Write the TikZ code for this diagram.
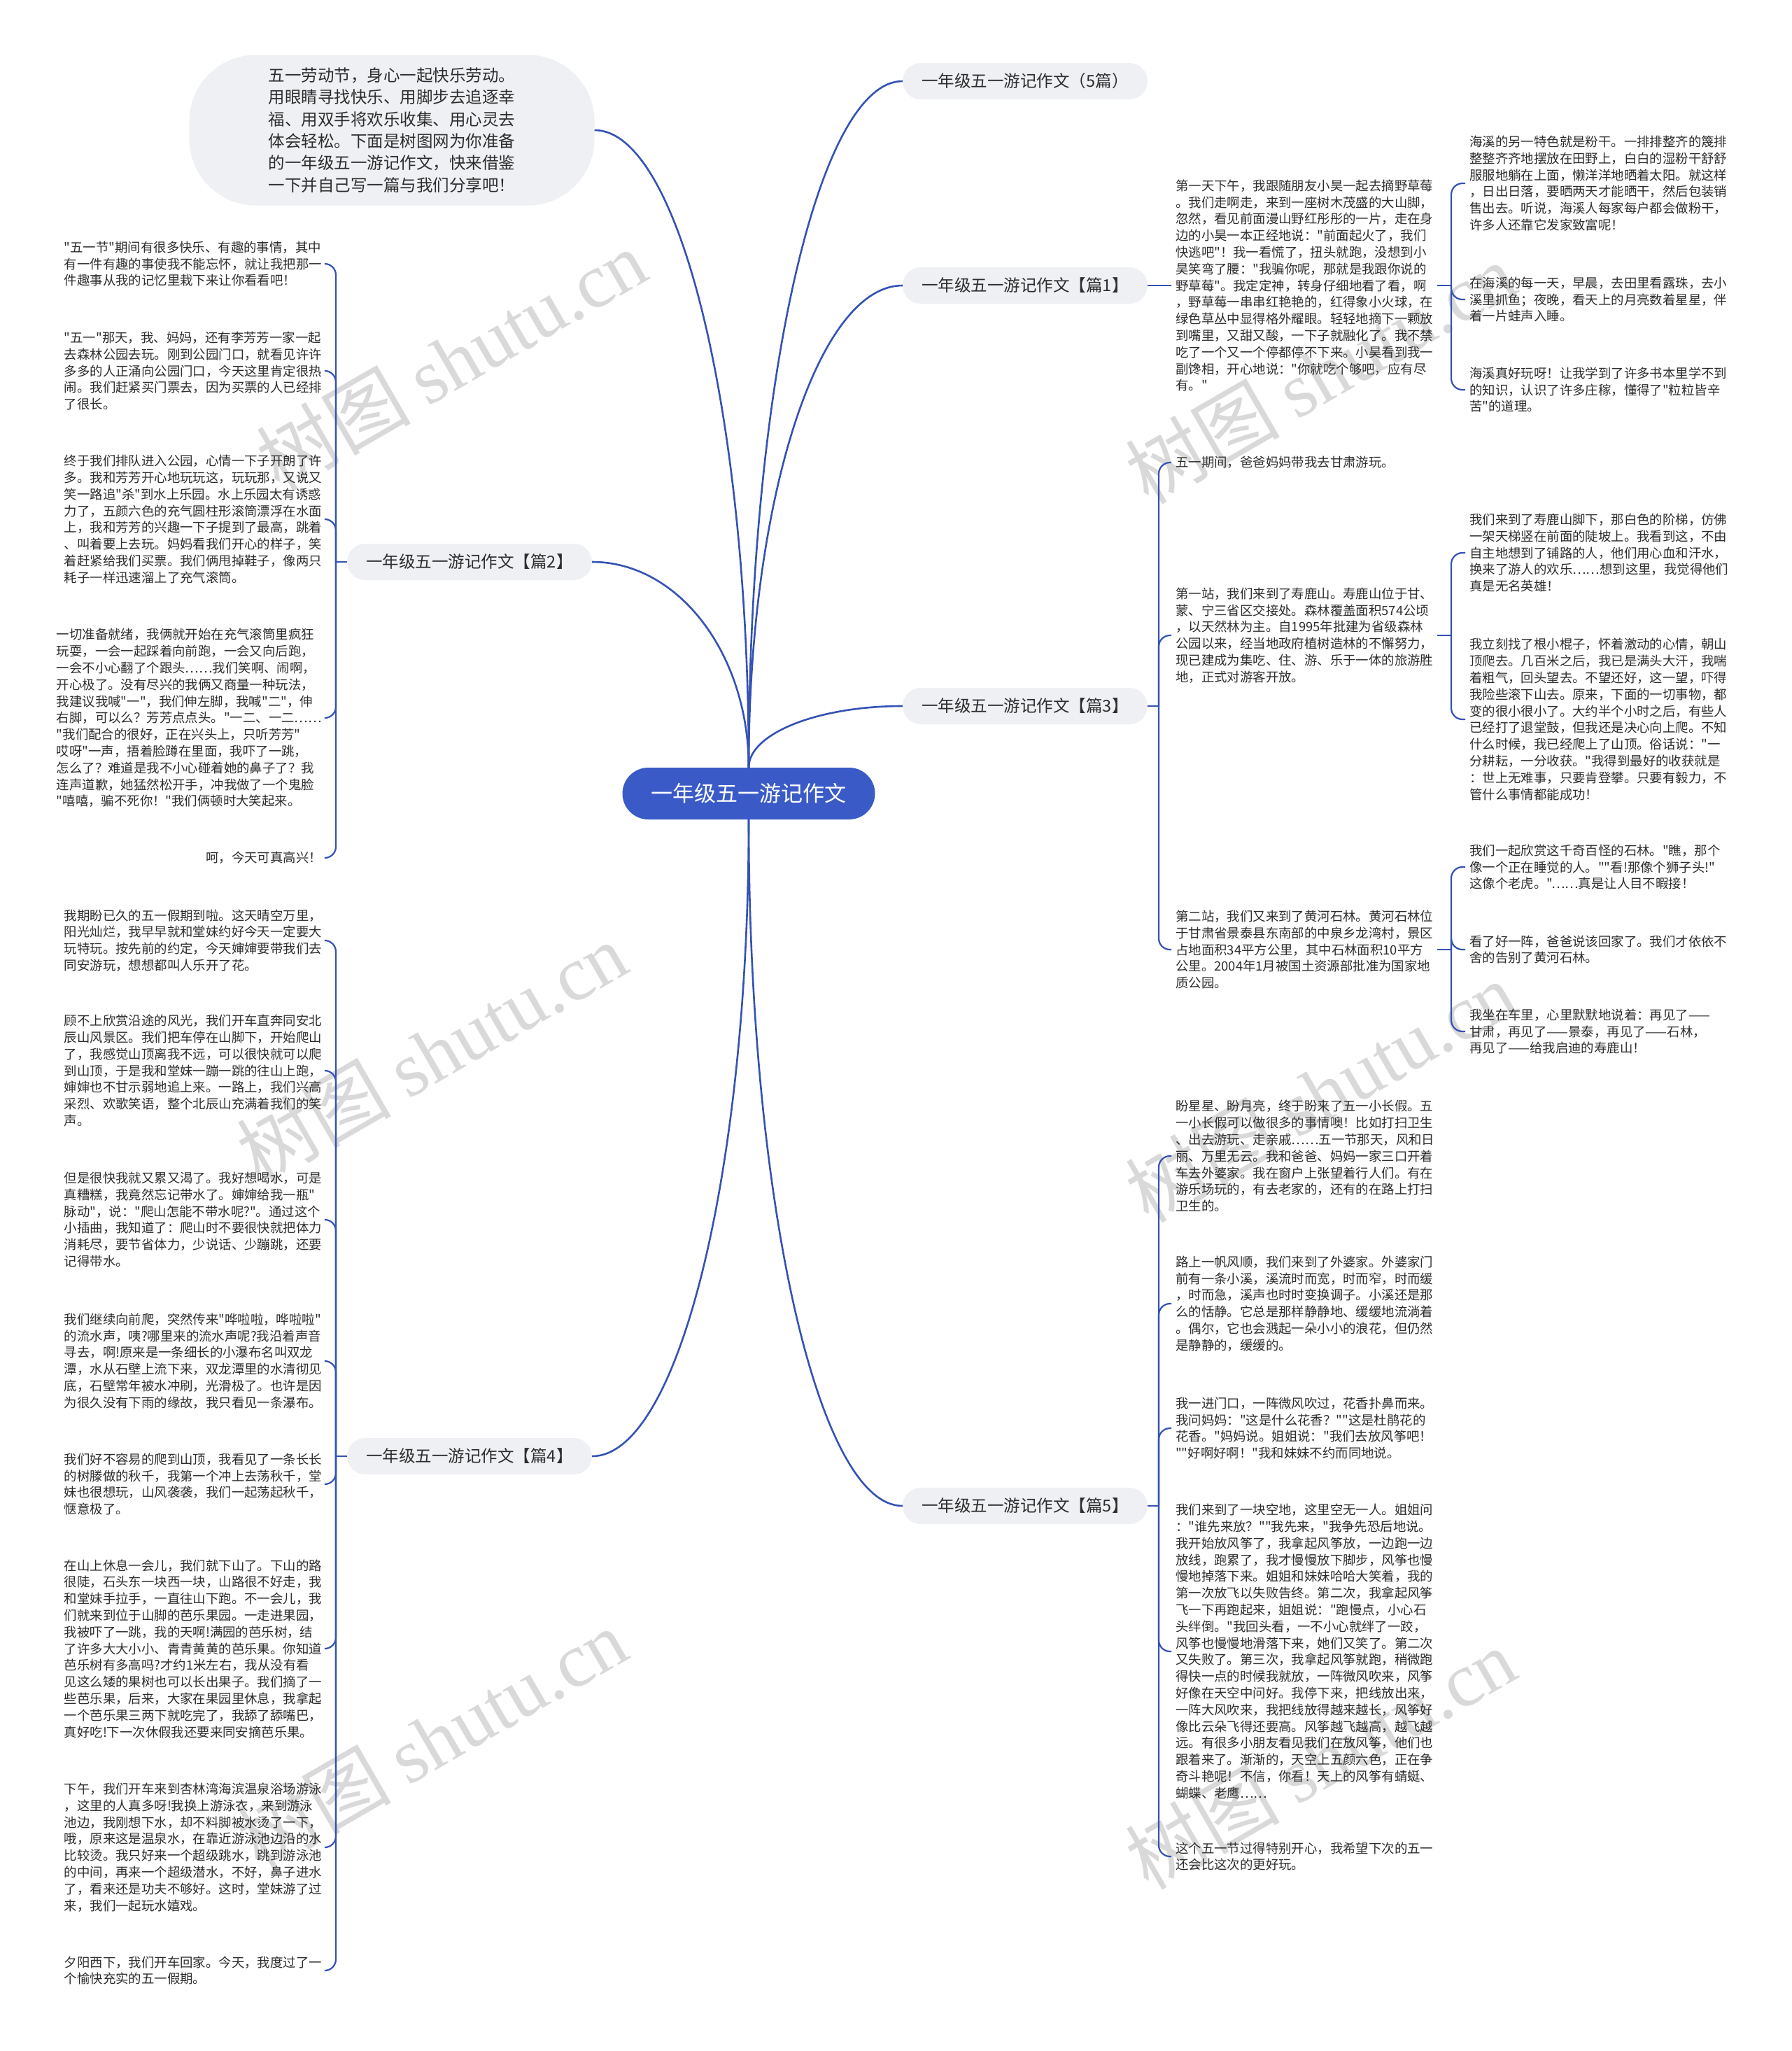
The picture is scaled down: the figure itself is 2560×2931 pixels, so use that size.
\documentclass[tikz,border=0pt]{standalone}
\usepackage{fontspec}
\newfontfamily\cjk{Noto Sans CJK SC}
\newfontfamily\wmlatin{Liberation Serif}
\usetikzlibrary{calc}
\definecolor{linkblue}{RGB}{52,82,180}
\definecolor{rootblue}{RGB}{58,91,199}
\definecolor{pillgray}{RGB}{238,240,243}
\definecolor{inkgray}{RGB}{45,45,45}

\begin{document}
\begin{tikzpicture}[x=1pt, y=-1pt,
    branchline/.style={draw=linkblue, line width=2.6pt},
    twig/.style={draw=linkblue, line width=2.2pt, rounded corners=16pt},
    curvy/.style={to path={.. controls
      ($(\tikztostart)!0.552!(\tikztostart |- \tikztotarget)$) and
      ($(\tikztotarget)!0.552!(\tikztostart |- \tikztotarget)$) .. (\tikztotarget)}},
    centerbox/.style={fill=rootblue, text=white, rounded corners=37pt,
      minimum width=361pt, minimum height=74pt, font=\cjk\fontsize{31}{36}\selectfont},
    topic/.style={fill=pillgray, text=inkgray, rounded corners=26pt,
      minimum width=350pt, minimum height=52pt, font=\cjk\fontsize{23.5}{28}\selectfont},
    leafnote/.style={text=inkgray, align=left, inner xsep=6pt, inner ysep=2pt,
      font=\cjk\fontsize{18.4}{23.8}\selectfont},
    wmark/.style={text=black!15, rotate=30, font=\cjk\fontsize{110}{120}\selectfont}]
  \useasboundingbox (0,0) rectangle (2560,2931);
  \fill[white] (0,0) rectangle (2560,2931);

  % --- watermarks, behind everything ---
  \node[wmark] (wm1) at (645,514) {树图 {\wmlatin shutu.cn}};
  \node[wmark] (wm2) at (617,1504) {树图 {\wmlatin shutu.cn}};
  \node[wmark] (wm3) at (617,2485) {树图 {\wmlatin shutu.cn}};
  \node[wmark] (wm4) at (1887,533) {树图 {\wmlatin shutu.cn}};
  \node[wmark] (wm5) at (1887,1560) {树图 {\wmlatin shutu.cn}};
  \node[wmark] (wm6) at (1887,2513) {树图 {\wmlatin shutu.cn}};

  % --- centre and main topics ---
  \node[centerbox] (root) at (1070,1134) {一年级五一游记作文};
  \node[fill=pillgray, text=inkgray, rounded corners=95pt, minimum width=579pt,
        minimum height=215pt, align=left, font=\cjk\fontsize{23.5}{31.4}\selectfont]
    (intro) at (560,186)
    {五一劳动节，身心一起快乐劳动。\\用眼睛寻找快乐、用脚步去追逐幸\\福、用双手将欢乐收集、用心灵去\\体会轻松。下面是树图网为你准备\\的一年级五一游记作文，快来借鉴\\一下并自己写一篇与我们分享吧！};
  \node[topic] (p0) at (1465,116) {一年级五一游记作文（5篇）};
  \node[topic] (p1) at (1465,408) {一年级五一游记作文【篇1】};
  \node[topic] (p2) at (671,803) {一年级五一游记作文【篇2】};
  \node[topic] (p3) at (1465,1009) {一年级五一游记作文【篇3】};
  \node[topic] (p4) at (671,2081) {一年级五一游记作文【篇4】};
  \node[topic] (p5) at (1465,2152) {一年级五一游记作文【篇5】};

  \draw[branchline] (root.north) to[curvy] (intro.east);
  \draw[branchline] (root.north) to[curvy] (p0.west);
  \draw[branchline] (root.north) to[curvy] (p1.west);
  \draw[branchline] (root.north) to[curvy] (p2.east);
  \draw[branchline] (root.north) to[curvy] (p3.west);
  \draw[branchline] (root.south) to[curvy] (p4.east);
  \draw[branchline] (root.south) to[curvy] (p5.west);

  % --- 篇1 ---
  \node[leafnote, anchor=west] (p1t) at (1674,408)
    {第一天下午，我跟随朋友小昊一起去摘野草莓\\。我们走啊走，来到一座树木茂盛的大山脚，\\忽然，看见前面漫山野红彤彤的一片，走在身\\边的小昊一本正经地说："前面起火了，我们\\快逃吧"！我一看慌了，扭头就跑，没想到小\\昊笑弯了腰："我骗你呢，那就是我跟你说的\\野草莓"。我定定神，转身仔细地看了看，啊\\，野草莓一串串红艳艳的，红得象小火球，在\\绿色草丛中显得格外耀眼。轻轻地摘下一颗放\\到嘴里，又甜又酸，一下子就融化了。我不禁\\吃了一个又一个停都停不下来。小昊看到我一\\副馋相，开心地说："你就吃个够吧，应有尽\\有。"};
  \node[leafnote, anchor=west] (p1a) at (2094,262)
    {海溪的另一特色就是粉干。一排排整齐的篾排\\整整齐齐地摆放在田野上，白白的湿粉干舒舒\\服服地躺在上面，懒洋洋地晒着太阳。就这样\\，日出日落，要晒两天才能晒干，然后包装销\\售出去。听说，海溪人每家每户都会做粉干，\\许多人还靠它发家致富呢！};
  \node[leafnote, anchor=west] (p1b) at (2094,428)
    {在海溪的每一天，早晨，去田里看露珠，去小\\溪里抓鱼；夜晚，看天上的月亮数着星星，伴\\着一片蛙声入睡。};
  \node[leafnote, anchor=west] (p1c) at (2094,557)
    {海溪真好玩呀！让我学到了许多书本里学不到\\的知识，认识了许多庄稼，懂得了"粒粒皆辛\\苦"的道理。};
  \coordinate (s1) at (2074,408);
  \draw[branchline] (p1.east) -- (p1t.west);
  \draw[branchline] (p1t.east) -- (s1);
  \draw[twig] (s1) |- (p1a.west);
  \draw[twig] (s1) |- (p1b.west);
  \draw[twig] (s1) |- (p1c.west);

  % --- 篇2 ---
  \node[leafnote, anchor=east] (p2a) at (466,377)
    {"五一节"期间有很多快乐、有趣的事情，其中\\有一件有趣的事使我不能忘怀，就让我把那一\\件趣事从我的记忆里栽下来让你看看吧！};
  \node[leafnote, anchor=east] (p2b) at (466,530)
    {"五一"那天，我、妈妈，还有李芳芳一家一起\\去森林公园去玩。刚到公园门口，就看见许许\\多多的人正涌向公园门口，今天这里肯定很热\\闹。我们赶紧买门票去，因为买票的人已经排\\了很长。};
  \node[leafnote, anchor=east] (p2c) at (466,742)
    {终于我们排队进入公园，心情一下子开朗了许\\多。我和芳芳开心地玩玩这，玩玩那，又说又\\笑一路追"杀"到水上乐园。水上乐园太有诱惑\\力了，五颜六色的充气圆柱形滚筒漂浮在水面\\上，我和芳芳的兴趣一下子提到了最高，跳着\\、叫着要上去玩。妈妈看我们开心的样子，笑\\着赶紧给我们买票。我们俩甩掉鞋子，像两只\\耗子一样迅速溜上了充气滚筒。};
  \node[leafnote, anchor=east] (p2d) at (466,1026)
    {一切准备就绪，我俩就开始在充气滚筒里疯狂\\玩耍，一会一起踩着向前跑，一会又向后跑，\\一会不小心翻了个跟头……我们笑啊、闹啊，\\开心极了。没有尽兴的我俩又商量一种玩法，\\我建议我喊"一"，我们伸左脚，我喊"二"，伸\\右脚，可以么？芳芳点点头。"一二、一二……\\"我们配合的很好，正在兴头上，只听芳芳"\\哎呀"一声，捂着脸蹲在里面，我吓了一跳，\\怎么了？难道是我不小心碰着她的鼻子了？我\\连声道歉，她猛然松开手，冲我做了一个鬼脸\\"嘻嘻，骗不死你！"我们俩顿时大笑起来。};
  \node[leafnote, anchor=east] (p2e) at (466,1226) {呵，今天可真高兴！};
  \coordinate (s2) at (480,803);
  \draw[branchline] (p2.west) -- (s2);
  \draw[twig] (s2) |- (p2a.east);
  \draw[twig] (s2) |- (p2b.east);
  \draw[twig] (s2) |- (p2c.east);
  \draw[twig] (s2) |- (p2d.east);
  \draw[twig] (s2) |- (p2e.east);

  % --- 篇3 ---
  \node[leafnote, anchor=west] (p3a) at (1674,661) {五一期间，爸爸妈妈带我去甘肃游玩。};
  \node[leafnote, anchor=west] (p3b) at (1674,908)
    {第一站，我们来到了寿鹿山。寿鹿山位于甘、\\蒙、宁三省区交接处。森林覆盖面积574公顷\\，以天然林为主。自1995年批建为省级森林\\公园以来，经当地政府植树造林的不懈努力，\\现已建成为集吃、住、游、乐于一体的旅游胜\\地，正式对游客开放。};
  \node[leafnote, anchor=west] (p3c) at (1674,1357)
    {第二站，我们又来到了黄河石林。黄河石林位\\于甘肃省景泰县东南部的中泉乡龙湾村，景区\\占地面积34平方公里，其中石林面积10平方\\公里。2004年1月被国土资源部批准为国家地\\质公园。};
  \node[leafnote, anchor=west] (p3b1) at (2094,790)
    {我们来到了寿鹿山脚下，那白色的阶梯，仿佛\\一架天梯竖在前面的陡坡上。我看到这，不由\\自主地想到了铺路的人，他们用心血和汗水，\\换来了游人的欢乐……想到这里，我觉得他们\\真是无名英雄！};
  \node[leafnote, anchor=west] (p3b2) at (2094,1028)
    {我立刻找了根小棍子，怀着激动的心情，朝山\\顶爬去。几百米之后，我已是满头大汗，我喘\\着粗气，回头望去。不望还好，这一望，吓得\\我险些滚下山去。原来，下面的一切事物，都\\变的很小很小了。大约半个小时之后，有些人\\已经打了退堂鼓，但我还是决心向上爬。不知\\什么时候，我已经爬上了山顶。俗话说："一\\分耕耘，一分收获。"我得到最好的收获就是\\：世上无难事，只要肯登攀。只要有毅力，不\\管什么事情都能成功！};
  \node[leafnote, anchor=west] (p3c1) at (2094,1239)
    {我们一起欣赏这千奇百怪的石林。"瞧，那个\\像一个正在睡觉的人。""看!那像个狮子头!"\\这像个老虎。"……真是让人目不暇接！};
  \node[leafnote, anchor=west] (p3c2) at (2094,1357)
    {看了好一阵，爸爸说该回家了。我们才依依不\\舍的告别了黄河石林。};
  \node[leafnote, anchor=west] (p3c3) at (2094,1474)
    {我坐在车里，心里默默地说着：再见了——\\甘肃，再见了——景泰，再见了——石林，\\再见了——给我启迪的寿鹿山！};
  \coordinate (s3) at (1656,1009);
  \coordinate (s3b) at (2074,908);
  \coordinate (s3c) at (2074,1357);
  \draw[branchline] (p3.east) -- (s3);
  \draw[twig] (s3) |- (p3a.west);
  \draw[twig] (s3) |- (p3b.west);
  \draw[twig] (s3) |- (p3c.west);
  \draw[branchline] (p3b.east) -- (s3b);
  \draw[twig] (s3b) |- (p3b1.west);
  \draw[twig] (s3b) |- (p3b2.west);
  \draw[branchline] (p3c.east) -- (s3c);
  \draw[twig] (s3c) |- (p3c1.west);
  \draw[twig] (s3c) |- (p3c2.west);
  \draw[twig] (s3c) |- (p3c3.west);

  % --- 篇4 ---
  \node[leafnote, anchor=east] (p4a) at (466,1344)
    {我期盼已久的五一假期到啦。这天晴空万里，\\阳光灿烂，我早早就和堂妹约好今天一定要大\\玩特玩。按先前的约定，今天婶婶要带我们去\\同安游玩，想想都叫人乐开了花。};
  \node[leafnote, anchor=east] (p4b) at (466,1530)
    {顾不上欣赏沿途的风光，我们开车直奔同安北\\辰山风景区。我们把车停在山脚下，开始爬山\\了，我感觉山顶离我不远，可以很快就可以爬\\到山顶，于是我和堂妹一蹦一跳的往山上跑，\\婶婶也不甘示弱地追上来。一路上，我们兴高\\采烈、欢歌笑语，整个北辰山充满着我们的笑\\声。};
  \node[leafnote, anchor=east] (p4c) at (466,1743)
    {但是很快我就又累又渴了。我好想喝水，可是\\真糟糕，我竟然忘记带水了。婶婶给我一瓶"\\脉动"，说："爬山怎能不带水呢?"。通过这个\\小插曲，我知道了：爬山时不要很快就把体力\\消耗尽，要节省体力，少说话、少蹦跳，还要\\记得带水。};
  \node[leafnote, anchor=east] (p4d) at (466,1945)
    {我们继续向前爬，突然传来"哗啦啦，哗啦啦"\\的流水声，咦?哪里来的流水声呢?我沿着声音\\寻去，啊!原来是一条细长的小瀑布名叫双龙\\潭，水从石壁上流下来，双龙潭里的水清彻见\\底，石壁常年被水冲刷，光滑极了。也许是因\\为很久没有下雨的缘故，我只看见一条瀑布。};
  \node[leafnote, anchor=east] (p4e) at (466,2121)
    {我们好不容易的爬到山顶，我看见了一条长长\\的树滕做的秋千，我第一个冲上去荡秋千，堂\\妹也很想玩，山风袭袭，我们一起荡起秋千，\\惬意极了。};
  \node[leafnote, anchor=east] (p4f) at (466,2356)
    {在山上休息一会儿，我们就下山了。下山的路\\很陡，石头东一块西一块，山路很不好走，我\\和堂妹手拉手，一直往山下跑。不一会儿，我\\们就来到位于山脚的芭乐果园。一走进果园，\\我被吓了一跳，我的天啊!满园的芭乐树，结\\了许多大大小小、青青黄黄的芭乐果。你知道\\芭乐树有多高吗?才约1米左右，我从没有看\\见这么矮的果树也可以长出果子。我们摘了一\\些芭乐果，后来，大家在果园里休息，我拿起\\一个芭乐果三两下就吃完了，我舔了舔嘴巴，\\真好吃!下一次休假我还要来同安摘芭乐果。};
  \node[leafnote, anchor=east] (p4g) at (466,2640)
    {下午，我们开车来到杏林湾海滨温泉浴场游泳\\，这里的人真多呀!我换上游泳衣，来到游泳\\池边，我刚想下水，却不料脚被水烫了一下，\\哦，原来这是温泉水，在靠近游泳池边沿的水\\比较烫。我只好来一个超级跳水，跳到游泳池\\的中间，再来一个超级潜水，不好，鼻子进水\\了，看来还是功夫不够好。这时，堂妹游了过\\来，我们一起玩水嬉戏。};
  \node[leafnote, anchor=east] (p4h) at (466,2816)
    {夕阳西下，我们开车回家。今天，我度过了一\\个愉快充实的五一假期。};
  \coordinate (s4) at (480,2081);
  \draw[branchline] (p4.west) -- (s4);
  \draw[twig] (s4) |- (p4a.east);
  \draw[twig] (s4) |- (p4b.east);
  \draw[twig] (s4) |- (p4c.east);
  \draw[twig] (s4) |- (p4d.east);
  \draw[twig] (s4) |- (p4e.east);
  \draw[twig] (s4) |- (p4f.east);
  \draw[twig] (s4) |- (p4g.east);
  \draw[twig] (s4) |- (p4h.east);

  % --- 篇5 ---
  \node[leafnote, anchor=west] (p5a) at (1674,1652)
    {盼星星、盼月亮，终于盼来了五一小长假。五\\一小长假可以做很多的事情噢！比如打扫卫生\\、出去游玩、走亲戚……五一节那天，风和日\\丽、万里无云。我和爸爸、妈妈一家三口开着\\车去外婆家。我在窗户上张望着行人们。有在\\游乐场玩的，有去老家的，还有的在路上打扫\\卫生的。};
  \node[leafnote, anchor=west] (p5b) at (1674,1863)
    {路上一帆风顺，我们来到了外婆家。外婆家门\\前有一条小溪，溪流时而宽，时而窄，时而缓\\，时而急，溪声也时时变换调子。小溪还是那\\么的恬静。它总是那样静静地、缓缓地流淌着\\。偶尔，它也会溅起一朵小小的浪花，但仍然\\是静静的，缓缓的。};
  \node[leafnote, anchor=west] (p5c) at (1674,2041)
    {我一进门口，一阵微风吹过，花香扑鼻而来。\\我问妈妈："这是什么花香？""这是杜鹃花的\\花香。"妈妈说。姐姐说："我们去放风筝吧！\\""好啊好啊！"我和妹妹不约而同地说。};
  \node[leafnote, anchor=west] (p5d) at (1674,2360)
    {我们来到了一块空地，这里空无一人。姐姐问\\："谁先来放？""我先来，"我争先恐后地说。\\我开始放风筝了，我拿起风筝放，一边跑一边\\放线，跑累了，我才慢慢放下脚步，风筝也慢\\慢地掉落下来。姐姐和妹妹哈哈大笑着，我的\\第一次放飞以失败告终。第二次，我拿起风筝\\飞一下再跑起来，姐姐说："跑慢点，小心石\\头绊倒。"我回头看，一不小心就绊了一跤，\\风筝也慢慢地滑落下来，她们又笑了。第二次\\又失败了。第三次，我拿起风筝就跑，稍微跑\\得快一点的时候我就放，一阵微风吹来，风筝\\好像在天空中问好。我停下来，把线放出来，\\一阵大风吹来，我把线放得越来越长，风筝好\\像比云朵飞得还要高。风筝越飞越高，越飞越\\远。有很多小朋友看见我们在放风筝，他们也\\跟着来了。渐渐的，天空上五颜六色，正在争\\奇斗艳呢！不信，你看！天上的风筝有蜻蜓、\\蝴蝶、老鹰……};
  \node[leafnote, anchor=west] (p5e) at (1674,2653)
    {这个五一节过得特别开心，我希望下次的五一\\还会比这次的更好玩。};
  \coordinate (s5) at (1656,2152);
  \draw[branchline] (p5.east) -- (s5);
  \draw[twig] (s5) |- (p5a.west);
  \draw[twig] (s5) |- (p5b.west);
  \draw[twig] (s5) |- (p5c.west);
  \draw[twig] (s5) |- (p5d.west);
  \draw[twig] (s5) |- (p5e.west);
\end{tikzpicture}
\end{document}
